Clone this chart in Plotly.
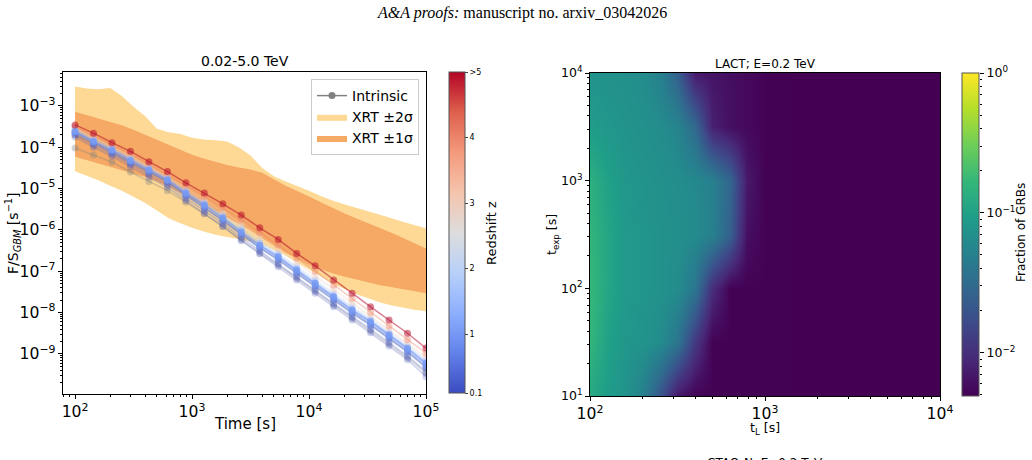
import numpy as np
import plotly.graph_objects as go
from plotly.colors import sample_colorscale

# ---------------- left panel data ----------------
line_times = [100, 143.8, 206.9, 297.6, 428.1, 615.8, 885.9, 1274.3, 1833.1, 2636.7,
              3792.7, 5455.6, 7847.6, 11288.4, 16237.8, 23357.2, 33598.2, 48329.3, 69519.3, 100000]

# log10(F/S_GBM) for GRBs at several redshifts
curve_z = [0.1, 0.3, 0.6, 2.0, 3.0, 4.0, 0.8, 1.5, 1.0, 5.0]
curve_logflux = [
    [-3.75, -4.00, -4.22, -4.47, -4.72, -4.97, -5.29, -5.60, -5.92, -6.26, -6.58, -6.89, -7.21, -7.53, -7.86, -8.18, -8.49, -8.81, -9.14, -9.55],
    [-3.70, -3.95, -4.17, -4.42, -4.66, -4.91, -5.23, -5.53, -5.85, -6.19, -6.51, -6.81, -7.13, -7.45, -7.78, -8.10, -8.40, -8.72, -9.05, -9.42],
    [-3.66, -3.90, -4.12, -4.37, -4.60, -4.85, -5.17, -5.47, -5.78, -6.12, -6.44, -6.73, -7.05, -7.37, -7.70, -8.02, -8.31, -8.63, -8.96, -9.32],
    [-3.56, -3.79, -4.01, -4.25, -4.49, -4.74, -5.04, -5.32, -5.62, -5.94, -6.26, -6.56, -6.88, -7.20, -7.53, -7.85, -8.15, -8.47, -8.80, -9.14],
    [-3.53, -3.75, -3.98, -4.21, -4.46, -4.71, -4.99, -5.26, -5.55, -5.85, -6.16, -6.47, -6.79, -7.11, -7.44, -7.77, -8.10, -8.43, -8.76, -9.08],
    [-3.50, -3.71, -3.94, -4.16, -4.41, -4.66, -4.93, -5.19, -5.46, -5.75, -6.06, -6.36, -6.68, -7.00, -7.33, -7.66, -7.99, -8.32, -8.65, -8.98],
    [-3.64, -3.88, -4.10, -4.35, -4.58, -4.82, -5.14, -5.44, -5.75, -6.09, -6.41, -6.69, -7.01, -7.33, -7.66, -7.98, -8.27, -8.59, -8.92, -9.28],
    [-3.59, -3.83, -4.04, -4.29, -4.52, -4.76, -5.08, -5.36, -5.67, -6.00, -6.32, -6.61, -6.93, -7.25, -7.58, -7.90, -8.19, -8.51, -8.84, -9.19],
    [-3.62, -3.86, -4.07, -4.32, -4.55, -4.79, -5.11, -5.40, -5.71, -6.05, -6.37, -6.65, -6.97, -7.29, -7.62, -7.94, -8.22, -8.54, -8.87, -9.23],
    [-3.46, -3.66, -3.89, -4.10, -4.35, -4.59, -4.86, -5.11, -5.37, -5.64, -5.95, -6.23, -6.57, -6.87, -7.21, -7.53, -7.86, -8.18, -8.50, -8.86],
]
curve_alpha = [0.25, 0.3, 0.4, 0.35, 0.35, 0.4, 0.5, 0.45, 0.8, 0.5]

intrinsic_logflux = [
    [-4.02, -4.19, -4.36, -4.60, -4.83, -5.05, -5.33, -5.61, -5.91, -6.24, -6.56, -6.85, -7.17, -7.49, -7.82, -8.14, -8.44, -8.76, -9.09, -9.46],
    [-3.70, -3.90, -4.12, -4.37, -4.60, -4.84, -5.16, -5.46, -5.77, -6.11, -6.43, -6.72, -7.04, -7.36, -7.69, -8.01, -8.30, -8.62, -8.95, -9.33],
]

band_times = [100, 126, 158, 200, 251, 316, 398, 501, 631, 794, 1000, 1259, 1585, 1995, 2512, 3162,
              3981, 5012, 6310, 7943, 10000, 12589, 15849, 19953, 25119, 31623, 39811, 50119, 63096, 79433, 100000]
xrt_up2 = [-2.53, -2.58, -2.60, -2.57, -2.76, -3.02, -3.25, -3.55, -3.64, -3.68, -3.77, -3.81, -3.83, -3.86, -4.00, -4.20,
           -4.50, -4.70, -4.83, -4.94, -5.05, -5.18, -5.29, -5.38, -5.46, -5.55, -5.62, -5.71, -5.80, -5.88, -5.96]
xrt_up1 = [-3.14, -3.22, -3.30, -3.39, -3.47, -3.58, -3.70, -3.82, -3.95, -4.07, -4.18, -4.27, -4.35, -4.43, -4.49, -4.54,
           -4.62, -4.78, -4.93, -5.06, -5.20, -5.33, -5.46, -5.60, -5.72, -5.83, -5.94, -6.06, -6.19, -6.32, -6.45]
xrt_lo1 = [-4.23, -4.31, -4.40, -4.48, -4.55, -4.63, -4.72, -4.83, -4.95, -5.10, -5.25, -5.40, -5.55, -5.70, -5.85, -6.02,
           -6.20, -6.37, -6.55, -6.70, -6.85, -6.95, -7.05, -7.13, -7.20, -7.27, -7.33, -7.38, -7.43, -7.48, -7.53]
xrt_lo2 = [-4.58, -4.69, -4.80, -4.93, -5.05, -5.20, -5.35, -5.53, -5.72, -5.84, -5.95, -6.04, -6.12, -6.17, -6.22, -6.28,
           -6.35, -6.48, -6.62, -6.79, -6.95, -7.12, -7.30, -7.43, -7.55, -7.65, -7.75, -7.82, -7.88, -7.93, -7.97]

z_ticks = [0.1, 1, 2, 3, 4, 5]
z_ticktext = ["0.1", "1", "2", "3", "4", ">5"]

# ---------------- right panel data ----------------
tL_values = [100, 126, 158, 200, 251, 316, 398, 501, 631, 794, 1000, 3162, 10000]
texp_values = [10, 32, 100, 316, 1000, 3162, 10000]
grb_fraction = [
    [0.12, 0.09, 0.075, 0.05, 0.02, 0.007, 0.005, 0.005, 0.005, 0.005, 0.005, 0.0048, 0.0048],
    [0.16, 0.10, 0.08, 0.075, 0.065, 0.04, 0.012, 0.005, 0.005, 0.005, 0.005, 0.0048, 0.0048],
    [0.17, 0.11, 0.085, 0.078, 0.072, 0.065, 0.04, 0.01, 0.005, 0.005, 0.005, 0.0048, 0.0048],
    [0.16, 0.11, 0.085, 0.078, 0.072, 0.068, 0.062, 0.05, 0.025, 0.006, 0.005, 0.0048, 0.0048],
    [0.14, 0.10, 0.08, 0.075, 0.07, 0.066, 0.06, 0.05, 0.028, 0.007, 0.005, 0.0048, 0.0048],
    [0.09, 0.08, 0.075, 0.07, 0.065, 0.055, 0.03, 0.008, 0.006, 0.0055, 0.005, 0.0048, 0.0048],
    [0.075, 0.072, 0.07, 0.065, 0.05, 0.025, 0.007, 0.0065, 0.006, 0.0055, 0.005, 0.0048, 0.0048],
]
frac_log_range = [-2.31, 0]
texp_ticks = [10, 100, 1000, 10000]
texp_ticktext = ["10<sup>1</sup>", "10<sup>2</sup>", "10<sup>3</sup>", "10<sup>4</sup>"]
frac_ticks = [1, 0.1, 0.01]
frac_ticktext = ["10<sup>0</sup>", "10<sup>−1</sup>", "10<sup>−2</sup>"]

# ---------------- styling ----------------
W, H = 1032, 460
FONT = "DejaVu Sans"
coolwarm = [
    [0.0, "rgb(59,76,192)"], [0.125, "rgb(98,130,234)"], [0.25, "rgb(141,176,254)"],
    [0.375, "rgb(184,208,249)"], [0.5, "rgb(221,221,221)"], [0.625, "rgb(245,196,173)"],
    [0.75, "rgb(244,154,123)"], [0.875, "rgb(222,96,77)"], [1.0, "rgb(180,4,38)"],
]
ZMIN, ZMAX = 0.1, 5.0
LIGHT_OR = "#fdd995"
DARK_OR = "#f5a965"


def px(xp):
    return xp / W


def py(yp):
    return 1 - yp / H


def rgba(rgbstr, a):
    return rgbstr.replace("rgb(", "rgba(").replace(")", f",{a})")


fig = go.Figure()

# XRT bands
bt = np.array(band_times)
fig.add_trace(go.Scatter(x=bt, y=10 ** np.array(xrt_lo2), mode="lines", line=dict(width=0),
                         showlegend=False, hoverinfo="skip"))
fig.add_trace(go.Scatter(x=bt, y=10 ** np.array(xrt_up2), mode="lines", line=dict(width=0),
                         fill="tonexty", fillcolor=LIGHT_OR, name="XRT ±2σ", legendrank=2))
fig.add_trace(go.Scatter(x=bt, y=10 ** np.array(xrt_lo1), mode="lines", line=dict(width=0),
                         showlegend=False, hoverinfo="skip"))
fig.add_trace(go.Scatter(x=bt, y=10 ** np.array(xrt_up1), mode="lines", line=dict(width=0),
                         fill="tonexty", fillcolor=DARK_OR, name="XRT ±1σ", legendrank=3))

# intrinsic curves
for i, lf in enumerate(intrinsic_logflux):
    fig.add_trace(go.Scatter(
        x=line_times, y=10 ** np.array(lf), mode="lines+markers",
        line=dict(color="rgba(128,128,128,0.35)", width=1.5),
        marker=dict(color="rgba(128,128,128,0.35)", size=7),
        name="Intrinsic", showlegend=False, hoverinfo="skip"))
# legend entry for intrinsic
fig.add_trace(go.Scatter(
    x=[None], y=[None], mode="lines+markers",
    line=dict(color="#808080", width=1.5), marker=dict(color="#808080", size=7),
    name="Intrinsic", legendrank=1))

# redshift-coloured curves
for k, (zv, lf, al) in enumerate(zip(curve_z, curve_logflux, curve_alpha)):
    c = sample_colorscale(coolwarm, [(zv - ZMIN) / (ZMAX - ZMIN)])[0]
    last = (k == len(curve_z) - 1)
    marker = dict(size=7, color=rgba(c, al))
    if last:
        marker = dict(size=7, color=[zv] * len(lf), colorscale=coolwarm, cmin=ZMIN, cmax=ZMAX,
                      opacity=al, showscale=True,
                      colorbar=dict(
                          x=px(449), xanchor="left", xpad=0, ypad=0,
                          y=py(72), yanchor="top", len=(393 - 72) / H, lenmode="fraction",
                          thickness=16, thicknessmode="pixels",
                          tickvals=z_ticks, ticktext=z_ticktext, ticks="outside", ticklen=3,
                          tickfont=dict(size=8, family=FONT, color="#000"),
                          outlinewidth=1, outlinecolor="#555"))
    fig.add_trace(go.Scatter(
        x=line_times, y=10 ** np.array(lf), mode="lines+markers",
        line=dict(color=rgba(c, al), width=1.5), marker=marker,
        showlegend=False, hoverinfo="skip"))

# heatmap
fig.add_trace(go.Heatmap(
    x=tL_values, y=texp_values, z=np.log10(np.array(grb_fraction)),
    xaxis="x2", yaxis="y2", colorscale="Viridis", zmin=frac_log_range[0], zmax=frac_log_range[1],
    zsmooth="best", hoverinfo="skip",
    colorbar=dict(x=px(962), xanchor="left", xpad=0, ypad=0, y=py(73), yanchor="top",
                  len=(396 - 73) / H, lenmode="fraction", thickness=17, thicknessmode="pixels",
                  showticklabels=False, ticks="", outlinewidth=1, outlinecolor="#555")))
# carrier for the colour-bar tick axis
fig.add_trace(go.Scatter(x=[None], y=[None], xaxis="x2", yaxis="y3", showlegend=False, hoverinfo="skip"))

tickfont = dict(family=FONT, size=12.5, color="#000")
minor = dict(ticks="outside", ticklen=2, tickcolor="#000", dtick="D1", showgrid=False)
common = dict(type="log", showgrid=False, zeroline=False, showline=True, linecolor="#000", linewidth=1,
              mirror=True, ticks="outside", ticklen=4, tickcolor="#000", tickwidth=1,
              exponentformat="power", tickfont=tickfont, minor=minor)

fig.update_layout(
    width=W, height=H, autosize=False, margin=dict(l=0, r=0, t=0, b=0, autoexpand=False),
    paper_bgcolor="white", plot_bgcolor="white",
    font=dict(family=FONT, color="#000"),
    xaxis=dict(domain=[px(63), px(426)], range=[1.897, 5], anchor="y", dtick=1, **common),
    yaxis=dict(domain=[py(394), py(72)], range=[-9.97, -2.18], anchor="x", dtick=1, **common),
    xaxis2=dict(domain=[px(590), px(940)], range=[2, 4], anchor="y2", dtick=1, **common),
    yaxis2=dict(domain=[py(396), py(73)], range=[1, 4], anchor="x2",
                tickmode="array", tickvals=texp_ticks, ticktext=texp_ticktext, **common),
    yaxis3=dict(type="log", range=frac_log_range, overlaying="y2", anchor="free", position=px(979),
                side="right", showgrid=False, zeroline=False, showline=False, ticks="outside",
                ticklen=4, tickcolor="#000", tickmode="array", tickvals=frac_ticks, ticktext=frac_ticktext,
                tickfont=tickfont, minor=minor),
    legend=dict(x=px(419), xanchor="right", y=py(79), yanchor="top", traceorder="normal",
                bgcolor="rgba(255,255,255,0.8)", bordercolor="#cccccc", borderwidth=1,
                font=dict(family=FONT, size=14, color="#000"), tracegroupgap=0),
    showlegend=True,
)

ann = [
    dict(text="<i>A&amp;A proofs:</i> manuscript no. arxiv_03042026", x=px(522), y=py(13),
         font=dict(family="Liberation Serif", size=16)),
    dict(text="0.02-5.0 TeV", x=px(245), y=py(61), font=dict(size=14)),
    dict(text="LACT; E=0.2 TeV", x=px(765), y=py(64), font=dict(size=12)),
    dict(text="CTAO-N; E=0.2 TeV", x=px(765), y=py(463), font=dict(size=12)),
    dict(text="Time [s]", x=px(245), y=py(424), font=dict(size=15)),
    dict(text="F/S<sub><i>GBM</i></sub> [s<sup>−1</sup>]", x=px(13), y=py(233), textangle=-90,
         font=dict(size=14)),
    dict(text="Redshift z", x=px(492), y=py(233), textangle=-90, font=dict(size=13)),
    dict(text="t<sub>L</sub> [s]", x=px(765), y=py(428), font=dict(size=12.5)),
    dict(text="t<sub>exp</sub> [s]", x=px(552), y=py(235), textangle=-90, font=dict(size=12.5)),
    dict(text="Fraction of GRBs", x=px(1021), y=py(233), textangle=-90, font=dict(size=12)),
]
for a in ann:
    a.update(xref="paper", yref="paper", showarrow=False, xanchor="center", yanchor="middle")
    a["font"] = dict(family=a["font"].get("family", FONT), size=a["font"]["size"], color="#000")
fig.update_layout(annotations=ann)

fig.write_html("out.html")
